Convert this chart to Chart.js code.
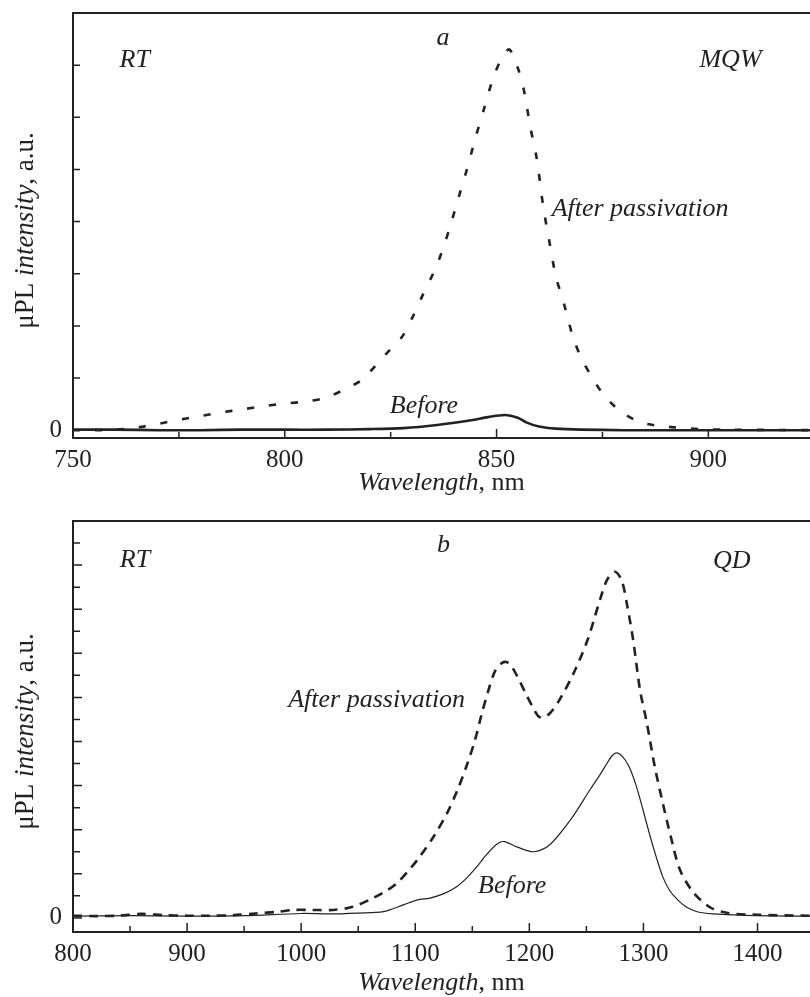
<!DOCTYPE html>
<html>
<head>
<meta charset="utf-8">
<script src="https://cdn.jsdelivr.net/npm/chart.js@4.4.0/dist/chart.umd.min.js"></script>
<style>
  body { margin: 0; background: #fff; }
  canvas { display: block; }
</style>
</head>
<body>
<canvas id="chartA" width="810" height="500"></canvas>
<canvas id="chartB" width="810" height="497"></canvas>
<script>
// panel a (MQW) - wavelength in nm, intensity in a.u.
const wlAfterA = [750, 755, 760, 765, 770, 775, 780, 785, 790, 795, 800, 805, 810, 815, 818, 820, 824, 827.6, 830, 832.5,
  835, 837, 839, 841.5, 843, 845, 847, 849, 851, 853, 855, 856.5, 858, 859.5, 861, 862.5, 864, 866, 868, 870,
  872, 875, 879, 884, 890, 898, 905, 924];
const afterA = [0, 0, 0.01, 0.05, 0.12, 0.2, 0.27, 0.34, 0.4, 0.46, 0.51, 0.55, 0.63, 0.82, 0.95, 1.11, 1.47, 1.78, 2.14, 2.58,
  3.0, 3.4, 3.9, 4.59, 5.0, 5.6, 6.15, 6.7, 7.1, 7.3, 6.95, 6.5, 5.8, 5.2, 4.3, 3.6, 2.95, 2.4, 1.8, 1.38,
  1.09, 0.71, 0.38, 0.15, 0.07, 0.02, 0.01, 0];
const wlBeforeA = [750, 760, 770, 780, 790, 800, 810, 820, 828, 836, 844, 848, 852, 855, 857, 860, 864, 870, 880, 924];
const beforeA = [0.01, 0.01, 0, 0, 0.01, 0.01, 0.01, 0.02, 0.04, 0.1, 0.19, 0.25, 0.29, 0.24, 0.15, 0.07, 0.03, 0.01, 0, 0];

// panel b (QD)
const wlAfterB = [800, 820, 840, 860, 880, 900, 920, 940, 960, 980, 993, 1010, 1028, 1045, 1063, 1075, 1084, 1095, 1102, 1116,
  1128, 1137, 1145, 1152, 1158, 1164, 1170, 1176, 1180, 1184, 1190, 1197, 1203, 1208, 1212, 1218, 1225, 1239, 1251, 1260,
  1268, 1275, 1281, 1286, 1291, 1297, 1303, 1310, 1317, 1324, 1332, 1344, 1359, 1374, 1400, 1446];
const afterB = [0.05, 0.04, 0.05, 0.09, 0.06, 0.05, 0.05, 0.06, 0.1, 0.14, 0.18, 0.18, 0.18, 0.25, 0.45, 0.62, 0.79, 1.1, 1.32, 1.84,
  2.38, 2.9, 3.45, 4.0, 4.6, 5.15, 5.6, 5.78, 5.8, 5.72, 5.45, 5.08, 4.78, 4.57, 4.54, 4.64, 4.88, 5.56, 6.3, 7.05,
  7.66, 7.85, 7.65, 7.05, 6.3, 5.17, 4.42, 3.42, 2.6, 1.84, 1.09, 0.57, 0.23, 0.11, 0.07, 0.05];
const wlBeforeB = [800, 850, 900, 950, 1000, 1025, 1050, 1072, 1090, 1102, 1113, 1125, 1137, 1145, 1154, 1163, 1172, 1178, 1189, 1204,
  1218, 1236, 1253, 1262, 1268, 1272, 1276, 1280, 1284, 1288, 1293, 1297, 1302, 1306, 1311, 1317, 1323, 1330, 1338, 1347,
  1361, 1400, 1446];
const beforeB = [0.04, 0.05, 0.04, 0.05, 0.1, 0.09, 0.11, 0.14, 0.3, 0.41, 0.45, 0.55, 0.72, 0.9, 1.16, 1.45, 1.68, 1.73, 1.61, 1.5,
  1.66, 2.22, 2.9, 3.25, 3.5, 3.66, 3.74, 3.7, 3.58, 3.4, 3.05, 2.7, 2.22, 1.84, 1.4, 0.93, 0.62, 0.41, 0.24, 0.14,
  0.09, 0.05, 0.04];

const notesA = [
  { text: 'RT', x: 761, y: 6.96 },
  { text: 'a', x: 835.8, y: 7.38 },
  { text: 'MQW', x: 897.9, y: 6.96 },
  { text: 'After passivation', x: 863, y: 4.11 },
  { text: 'Before', x: 824.8, y: 0.33 }
];
const notesB = [
  { text: 'RT', x: 841, y: 7.96 },
  { text: 'b', x: 1119, y: 8.3 },
  { text: 'QD', x: 1361, y: 7.94 },
  { text: 'After passivation', x: 988.6, y: 4.78 },
  { text: 'Before', x: 1155, y: 0.57 }
];

const SERIF = '"Liberation Serif", "Times New Roman", serif';
const INK = '#222';

function pts(xs, ys) {
  return xs.map((v, i) => ({ x: v, y: ys[i] }));
}

function drawMixed(ctx, parts, x, y, size) {
  let total = 0;
  parts.forEach(p => {
    ctx.font = (p[1] ? 'italic ' : '') + size + 'px ' + SERIF;
    total += ctx.measureText(p[0]).width;
  });
  let cx = x - total / 2;
  ctx.textAlign = 'left';
  parts.forEach(p => {
    ctx.font = (p[1] ? 'italic ' : '') + size + 'px ' + SERIF;
    ctx.fillText(p[0], cx, y);
    cx += ctx.measureText(p[0]).width;
  });
}

// frame, inward ticks, axis titles and labels
const framePlugin = {
  id: 'frame',
  afterDraw(chart, args, o) {
    const { ctx, chartArea: a, scales: { x, y } } = chart;
    ctx.save();
    ctx.strokeStyle = INK;
    ctx.lineWidth = 2;
    ctx.beginPath();
    ctx.moveTo(chart.width, a.top);
    ctx.lineTo(a.left, a.top);
    ctx.lineTo(a.left, a.bottom);
    ctx.lineTo(chart.width, a.bottom);
    ctx.stroke();

    ctx.lineWidth = 1.5;
    ctx.beginPath();
    x.ticks.forEach(t => {
      const px = x.getPixelForValue(t.value);
      const len = t.value % o.xMajor === 0 ? 9 : 6;
      ctx.moveTo(px, a.bottom);
      ctx.lineTo(px, a.bottom - len);
    });
    y.ticks.forEach(t => {
      if (t.value < 0 || t.value >= y.max) return;
      const py = y.getPixelForValue(t.value);
      const len = t.value % o.yMajor === 0 ? o.yMajorLen : 7;
      ctx.moveTo(a.left, py);
      ctx.lineTo(a.left + len, py);
    });
    ctx.stroke();

    ctx.fillStyle = INK;
    ctx.textBaseline = 'alphabetic';
    drawMixed(ctx, [['Wavelength', true], [', nm', false]], (a.left + a.right) / 2, a.bottom + o.xTitleGap, 26);

    ctx.font = 'italic 26px ' + SERIF;
    ctx.textAlign = 'left';
    o.notes.forEach(n => {
      ctx.fillText(n.text, x.getPixelForValue(n.x), y.getPixelForValue(n.y));
    });

    ctx.translate(33, (a.top + a.bottom) / 2 + o.yTitleShift);
    ctx.rotate(-Math.PI / 2);
    drawMixed(ctx, [['μPL ', false], ['intensity', true], [', a.u.', false]], 0, 0, 27);
    ctx.restore();
  }
};

function makeChart(id, c) {
  return new Chart(document.getElementById(id), {
    type: 'line',
    data: {
      datasets: [
        { data: pts(c.wlAfter, c.after), borderColor: INK, borderWidth: 2.6, borderDash: c.dash,
          pointRadius: 0, tension: 0.3 },
        { data: pts(c.wlBefore, c.before), borderColor: INK, borderWidth: c.beforeWidth,
          pointRadius: 0, tension: 0.3 }
      ]
    },
    options: {
      responsive: false,
      animation: false,
      events: [],
      layout: { padding: { left: 23, top: c.top, right: 0, bottom: 0 } },
      plugins: {
        legend: { display: false },
        tooltip: { enabled: false },
        frame: { xMajor: c.xLabelStep, yMajor: 1, yMajorLen: c.yMajorLen, xTitleGap: c.xTitleGap,
          yTitleShift: c.yTitleShift, notes: c.notes }
      },
      scales: {
        x: {
          type: 'linear',
          min: c.xMin,
          max: c.xMax,
          afterFit: s => { s.height = c.xHeight; s.paddingLeft = 0; s.paddingRight = 0; },
          grid: { display: false, drawTicks: false },
          border: { display: false },
          ticks: {
            stepSize: c.xStep,
            includeBounds: false,
            autoSkip: false,
            maxRotation: 0,
            padding: 7,
            color: INK,
            font: { family: SERIF, size: 25 },
            callback: v => (v % c.xLabelStep === 0 ? String(v) : '')
          }
        },
        y: {
          min: c.yMin,
          max: c.yMax,
          afterFit: s => { s.width = 50; s.paddingTop = 0; s.paddingBottom = 0; },
          grid: { display: false, drawTicks: false },
          border: { display: false },
          ticks: {
            stepSize: c.yStep,
            includeBounds: false,
            autoSkip: false,
            padding: 11,
            color: INK,
            font: { family: SERIF, size: 25 },
            callback: v => (v === 0 ? '0' : '')
          }
        }
      }
    },
    plugins: [framePlugin]
  });
}

makeChart('chartA', {
  wlAfter: wlAfterA, after: afterA, wlBefore: wlBeforeA, before: beforeA, notes: notesA,
  dash: [7, 15], beforeWidth: 2.6, top: 13, xHeight: 62,
  xMin: 750, xMax: 924, xStep: 25, xLabelStep: 50,
  yMin: -0.15, yMax: 8, yStep: 1, yMajorLen: 7,
  xTitleGap: 52, yTitleShift: 5
});

makeChart('chartB', {
  wlAfter: wlAfterB, after: afterB, wlBefore: wlBeforeB, before: beforeB, notes: notesB,
  dash: [9, 7], beforeWidth: 1.2, top: 21, xHeight: 65,
  xMin: 800, xMax: 1446, xStep: 50, xLabelStep: 100,
  yMin: -0.32, yMax: 9, yStep: 0.5, yMajorLen: 9,
  xTitleGap: 58, yTitleShift: 5
});
</script>
</body>
</html>
